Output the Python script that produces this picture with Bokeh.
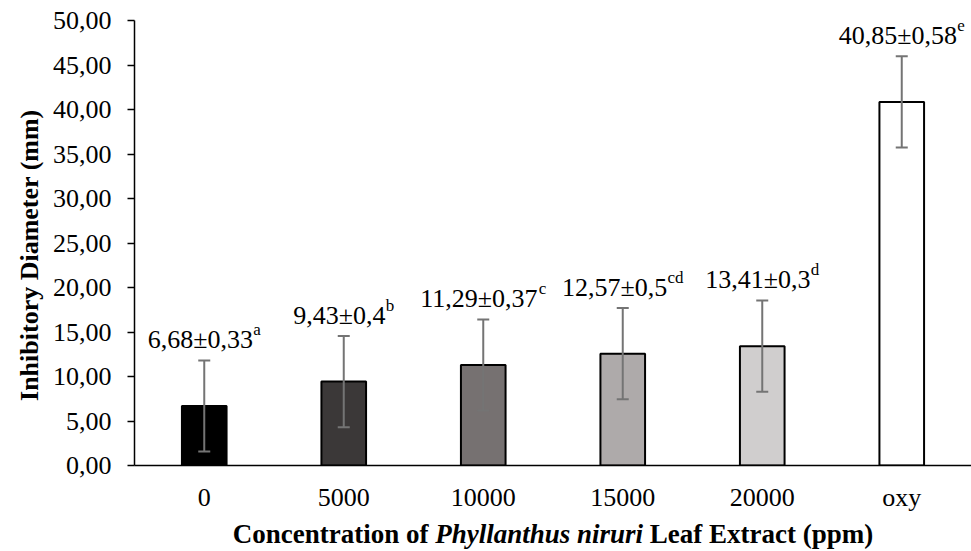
import math
from bokeh.plotting import figure
from bokeh.layouts import column, row
from bokeh.models import (ColumnDataSource, Range1d, FactorRange, FixedTicker,
                          Whisker, TeeHead)
from bokeh.core.properties import value
from bokeh.embed import file_html
from bokeh.resources import INLINE

# ---- data ----
categories = ["0", "5000", "10000", "15000", "20000", "oxy"]
means = [6.68, 9.43, 11.29, 12.57, 13.41, 40.85]
errors = [5.12, 5.12, 5.12, 5.12, 5.12, 5.12]
sd_texts = ["0,33", "0,4", "0,37", "0,5", "0,3", "0,58"]
letters = ["a", "b", "c", "cd", "d", "e"]
bar_colors = ["#000000", "#3B3838", "#767171", "#AEAAAA", "#D0CECE", "#FFFFFF"]
y_ticks = [0, 5, 10, 15, 20, 25, 30, 35, 40, 45, 50]
y_title = "Inhibitory Diameter (mm)"
x_title_parts = ["Concentration of", "Phyllanthus niruri", "Leaf Extract (ppm)"]
x_title_styles = ["bold", "bold italic", "bold"]

FONT = "'Liberation Serif', 'Times New Roman', serif"
FS = 26      # main font size (px)
SFS = 17     # superscript font size (px)
TFS = 27     # x title font size (px)

# page geometry (px)
W, H = 971, 551
YT_W = 45            # strip holding the y title
XT_H = 37            # strip holding the x title
FRAME_L, FRAME_R = 134, 971
FRAME_T, FRAME_B = 20, 465
MAIN_H = H - XT_H

# Times / Liberation Serif advance widths (per 1000 em)
REG = {c: 500 for c in "0123456789"}
REG.update({",": 250, "\u00b1": 564})
SUP = {"a": 444, "b": 500, "c": 444, "d": 500, "e": 444}
BOLD = {" ": 250, "(": 333, ")": 333, "C": 722, "E": 667, "L": 667, "a": 500,
        "c": 444, "e": 444, "f": 333, "i": 278, "m": 833, "n": 556, "o": 500,
        "p": 556, "r": 444, "t": 333, "x": 500}
BOLDIT = {" ": 250, "P": 611, "h": 556, "y": 444, "l": 278, "a": 500, "n": 556,
          "t": 278, "u": 556, "s": 389, "i": 278, "r": 389}


def tw(s, table, size):
    return sum(table.get(ch, 500) for ch in s) * size / 1000.0


def fmt(v):
    return f"{v:.2f}".replace(".", ",")


main_txt = [fmt(m) + "\u00b1" + s for m, s in zip(means, sd_texts)]
main_w = [tw(t, REG, FS) for t in main_txt]
sup_w = [tw(l, SUP, SFS) for l in letters]
start = [-(mw + sw) / 2.0 for mw, sw in zip(main_w, sup_w)]
sup_start = [st + mw for st, mw in zip(start, main_w)]

src = ColumnDataSource(data=dict(
    cat=categories,
    mean=means,
    upper=[m + e for m, e in zip(means, errors)],
    lower=[m - e for m, e in zip(means, errors)],
    color=bar_colors,
    main=main_txt,
    sup=letters,
    xo_main=start,
    xo_sup=sup_start,
))

# ---------------- main chart ----------------
p = figure(x_range=FactorRange(*categories), y_range=Range1d(0, 50),
           width=W - YT_W, height=MAIN_H, output_backend="svg",
           toolbar_location=None, title_location=None,
           min_border_left=FRAME_L - YT_W, min_border_right=0,
           min_border_top=FRAME_T, min_border_bottom=MAIN_H - FRAME_B)
p.background_fill_color = "white"
p.border_fill_color = "white"
p.outline_line_color = None
p.xgrid.visible = False
p.ygrid.visible = False

p.vbar(x="cat", top="mean", bottom=0, width=0.32, source=src,
       fill_color="color", line_color="black", line_width=2)

err_col = "#747474"
wh = Whisker(base="cat", upper="upper", lower="lower", source=src,
             line_color=err_col, line_width=2, level="annotation",
             upper_head=TeeHead(size=12, line_color=err_col, line_width=2),
             lower_head=TeeHead(size=12, line_color=err_col, line_width=2))
p.add_layout(wh)

# value labels with superscript letters
p.text(x="cat", y="upper", text="main", source=src, x_offset="xo_main",
       y_offset=-21, text_font=value(FONT), text_font_size=f"{FS}px",
       text_align="left", text_baseline="alphabetic", text_color="black")
p.text(x="cat", y="upper", text="sup", source=src, x_offset="xo_sup",
       y_offset=-31, text_font=value(FONT), text_font_size=f"{SFS}px",
       text_align="left", text_baseline="alphabetic", text_color="black")

for ax in (p.xaxis[0], p.yaxis[0]):
    ax.axis_line_color = "black"
    ax.axis_line_width = 1.5
    ax.major_label_text_font = FONT
    ax.major_label_text_font_size = f"{FS}px"
    ax.major_label_text_color = "black"
    ax.minor_tick_line_color = None
    ax.axis_label = None

p.yaxis.ticker = FixedTicker(ticks=y_ticks)
p.yaxis.major_label_overrides = {t: fmt(t) for t in y_ticks}
p.yaxis.major_tick_out = 7
p.yaxis.major_tick_in = 0
p.yaxis.major_tick_line_color = "black"
p.yaxis.major_tick_line_width = 1.5
p.yaxis.major_label_standoff = 16

p.xaxis.major_tick_line_color = None
p.xaxis.major_label_standoff = 11


def strip(width, height):
    f = figure(width=width, height=height, output_backend="svg",
               toolbar_location=None, title_location=None,
               x_range=Range1d(0, width), y_range=Range1d(0, height),
               x_axis_location=None, y_axis_location=None,
               min_border_left=0, min_border_right=0,
               min_border_top=0, min_border_bottom=0)
    f.grid.visible = False
    f.outline_line_color = None
    f.background_fill_color = "white"
    f.border_fill_color = "white"
    return f


# ---------------- y title strip ----------------
yt = strip(YT_W, MAIN_H)
yt.text(x=[29], y=[MAIN_H - 256 - 15], text=[y_title],
        angle=math.pi / 2, text_font=value(FONT), text_font_style="bold",
        text_font_size=f"{FS}px", text_align="center",
        text_baseline="alphabetic", text_color="black")

# ---------------- x title strip ----------------
xt = strip(W, XT_H)
space_w = tw(" ", BOLD, TFS)
widths = [tw(t, BOLD if s == "bold" else BOLDIT, TFS)
          for t, s in zip(x_title_parts, x_title_styles)]
total = sum(widths) + space_w * (len(widths) - 1)
x0 = (FRAME_L + FRAME_R) / 2.0 - total / 2.0
xs = []
for w in widths:
    xs.append(x0)
    x0 += w + space_w
tsrc = ColumnDataSource(data=dict(x=xs, y=[H - 541 + 8] * 3, text=x_title_parts,
                                  style=x_title_styles))
xt.text(x="x", y="y", text="text", source=tsrc, text_font=value(FONT),
        text_font_style="style", text_font_size=f"{TFS}px",
        text_align="left", text_baseline="alphabetic", text_color="black")

layout = column(row(yt, p, spacing=0), xt, spacing=0)
open("out.html", "w").write(file_html(layout, INLINE))
